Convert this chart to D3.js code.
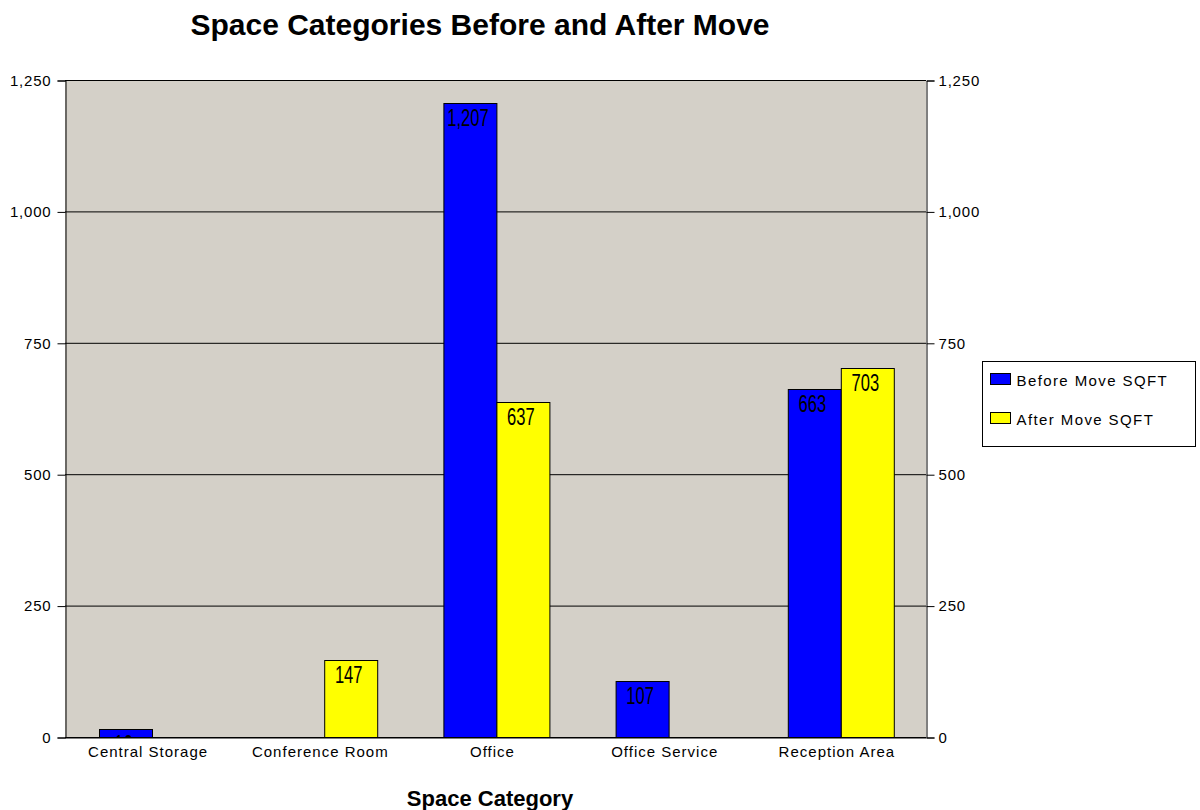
<!DOCTYPE html>
<html>
<head>
<meta charset="utf-8">
<script src="https://cdn.jsdelivr.net/npm/d3@7"></script>
<style>
  body { margin: 0; background: #fff; }
  text { font-family: "Liberation Sans", Arial, sans-serif; }
</style>
</head>
<body>
<svg id="chart"></svg>
<script>
const categories = ['Central Storage', 'Conference Room', 'Office', 'Office Service', 'Reception Area'];
const seriesNames = ['Before Move SQFT', 'After Move SQFT'];
const beforeValues = [16, 0, 1207, 107, 663];
const afterValues = [0, 147, 637, 0, 703];
const yTicks = [0, 250, 500, 750, 1000, 1250];

const width = 1200, height = 810;
const colors = ['#0000ff', '#ffff00'];
const plot = { left: 65, right: 926, top: 80, bottom: 737 };

const svg = d3.select('#chart')
  .attr('width', width)
  .attr('height', height);

const x0 = d3.scaleBand()
  .domain(categories)
  .range([plot.left, plot.right]);

const barW = 53;
const x1 = d3.scaleBand()
  .domain(seriesNames)
  .range([x0.bandwidth() / 2 - barW + 0.5, x0.bandwidth() / 2 + barW + 0.5]);

const y = d3.scaleLinear()
  .domain([0, 1250])
  .range([plot.bottom, plot.top]);

// plot background
svg.append('rect')
  .attr('x', plot.left)
  .attr('y', plot.top)
  .attr('width', plot.right - plot.left)
  .attr('height', plot.bottom - plot.top)
  .style('fill', '#d4d0c8');

// gridlines
svg.selectAll('line.grid')
  .data(yTicks)
  .enter()
  .append('line')
  .attr('class', 'grid')
  .attr('x1', plot.left)
  .attr('x2', plot.right)
  .attr('y1', d => y(d) + 0.5)
  .attr('y2', d => y(d) + 0.5)
  .style('stroke', '#000')
  .style('stroke-width', 1);

// axes
const fmt = d3.format(',');
const leftAxis = svg.append('g')
  .attr('transform', `translate(${plot.left + 0.5},0.5)`)
  .call(d3.axisLeft(y).tickValues(yTicks).tickFormat(fmt).tickSize(8).tickPadding(6));
const rightAxis = svg.append('g')
  .attr('transform', `translate(${plot.right + 0.5},0.5)`)
  .call(d3.axisRight(y).tickValues(yTicks).tickFormat(fmt).tickSize(8).tickPadding(4));
[leftAxis, rightAxis].forEach(g => {
  g.select('.domain').style('stroke', '#000');
  g.selectAll('.tick line').style('stroke', '#000');
  g.selectAll('.tick text')
    .style('font-family', '"Liberation Sans", Arial, sans-serif')
    .style('font-size', '15px')
    .style('letter-spacing', '0.8px')
    .style('fill', '#000');
});

const bottomAxis = svg.append('g')
  .attr('transform', `translate(0,${plot.bottom + 0.5})`)
  .call(d3.axisBottom(x0).tickSize(0).tickPadding(9));
bottomAxis.select('.domain').style('stroke', '#000');
bottomAxis.selectAll('.tick text')
  .attr('dx', -3)
  .style('font-family', '"Liberation Sans", Arial, sans-serif')
  .style('font-size', '15px')
  .style('letter-spacing', '1px')
  .style('fill', '#000');

// bars
const rows = categories.map((c, i) => ({
  category: c,
  values: [
    { series: seriesNames[0], value: beforeValues[i], color: colors[0] },
    { series: seriesNames[1], value: afterValues[i], color: colors[1] }
  ]
}));

const groups = svg.selectAll('g.cat')
  .data(rows)
  .enter()
  .append('g')
  .attr('class', 'cat')
  .attr('transform', d => `translate(${x0(d.category)},0)`);

const bars = groups.selectAll('g.bar')
  .data(d => d.values.filter(v => v.value > 0))
  .enter()
  .append('g')
  .attr('class', 'bar');

bars.append('rect')
  .attr('x', d => Math.round(x1(d.series)) + 0.5)
  .attr('y', d => Math.round(y(d.value)) + 0.5)
  .attr('width', x1.bandwidth())
  .attr('height', d => Math.round(y(0)) - Math.round(y(d.value)))
  .style('fill', d => d.color)
  .style('stroke', '#000')
  .style('stroke-width', 1);

// value labels, clipped to their bar like the original
bars.each(function(d, i) {
  const id = 'clip-' + d.series.replace(/\W/g, '') + '-' + Math.round(x1(d.series)) + '-' + d.value;
  const g = d3.select(this);
  g.append('clipPath').attr('id', id)
    .append('rect')
    .attr('x', x1(d.series))
    .attr('y', y(d.value))
    .attr('width', x1.bandwidth() + 1)
    .attr('height', y(0) - y(d.value));
  g.append('g')
    .attr('clip-path', `url(#${id})`)
    .append('text')
    .attr('transform', `translate(${Math.round(x1(d.series)) + x1.bandwidth() / 2 - 2},${y(d.value) + 23}) scale(0.72,1)`)
    .attr('text-anchor', 'middle')
    .style('font-family', '"Liberation Sans", Arial, sans-serif')
    .style('font-size', '23px')
    .style('fill', '#000')
    .text(fmt(d.value));
});

// title
svg.append('text')
  .attr('x', 480)
  .attr('y', 35)
  .attr('text-anchor', 'middle')
  .style('font-family', '"Liberation Sans", Arial, sans-serif')
  .style('font-weight', 'bold')
  .style('font-size', '30px')
  .text('Space Categories Before and After Move');

// x axis title
svg.append('text')
  .attr('x', 490)
  .attr('y', 806)
  .attr('text-anchor', 'middle')
  .style('font-family', '"Liberation Sans", Arial, sans-serif')
  .style('font-weight', 'bold')
  .style('font-size', '22px')
  .text('Space Category');

// legend
const legend = svg.append('g').attr('transform', 'translate(982.5,361.5)');
legend.append('rect')
  .attr('width', 213)
  .attr('height', 85)
  .style('fill', '#fff')
  .style('stroke', '#000');
const items = legend.selectAll('g.item')
  .data(seriesNames)
  .enter()
  .append('g')
  .attr('transform', (d, i) => `translate(8,${12 + i * 39})`);
items.append('rect')
  .attr('width', 20)
  .attr('height', 11)
  .style('fill', (d, i) => colors[i])
  .style('stroke', '#000');
items.append('text')
  .attr('x', 26)
  .attr('y', 12)
  .style('font-size', '15px')
  .style('letter-spacing', '1.4px')
  .text(d => d);
</script>
</body>
</html>
